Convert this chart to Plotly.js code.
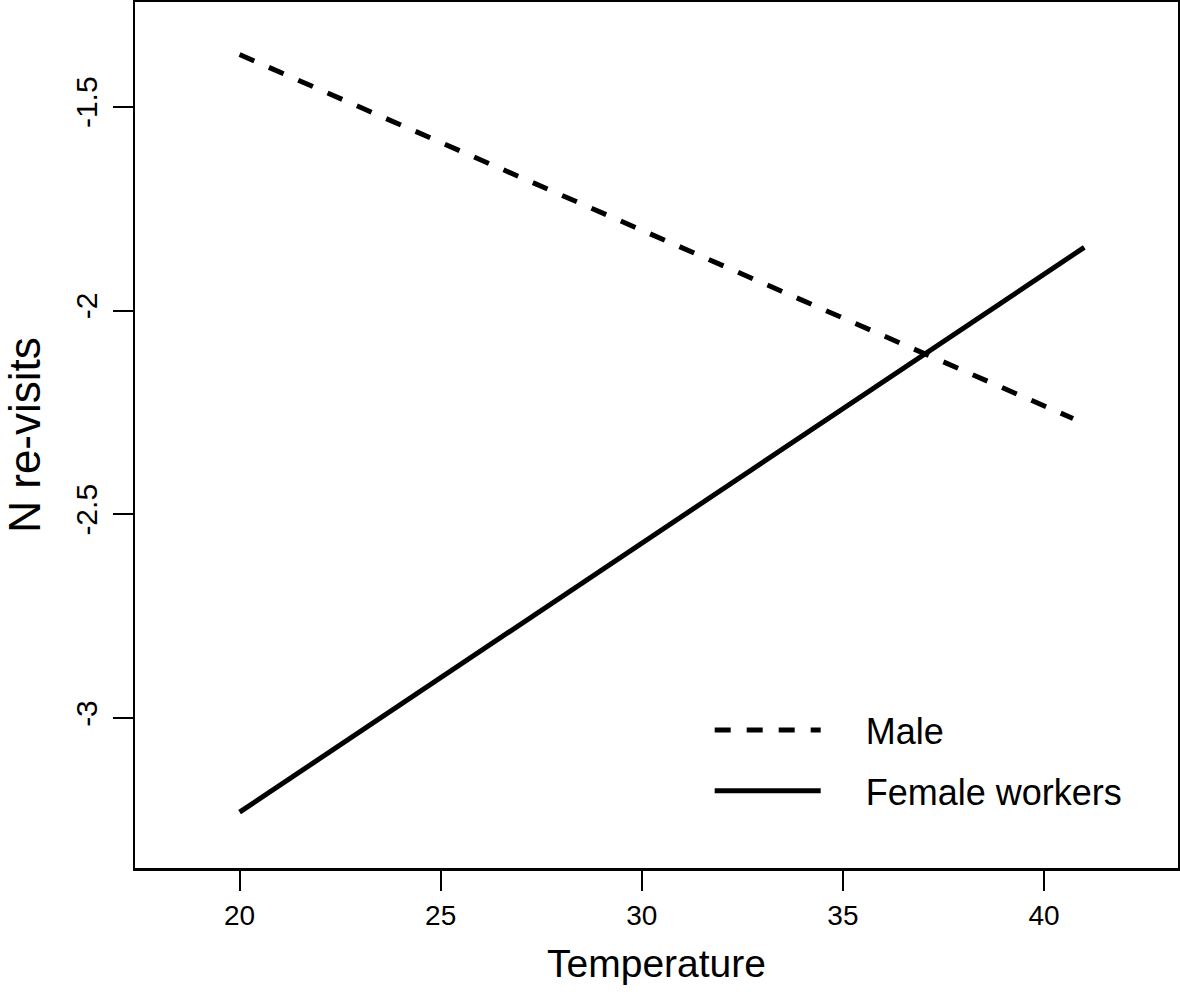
<!DOCTYPE html>
<html>
<head>
<meta charset="utf-8">
<script src="https://cdn.plot.ly/plotly-3.0.1.min.js"></script>
<style>
  body { margin: 0; background: #fff; }
  #plot { width: 1180px; height: 994px; }
</style>
</head>
<body>
<div id="plot"></div>
<script>
// fitted lines
const maleTemp = [20, 40.72];
const maleRevisits = [-1.372, -2.265];
const femaleTemp = [20, 41];
const femaleRevisits = [-3.231, -1.845];

const xTicks = [20, 25, 30, 35, 40];
const yTicks = [-1.5, -2, -2.5, -3];
const yTickLabels = ['-1.5', '-2', '-2.5', '-3'];

const pad = '\u00A0\u00A0\u00A0\u00A0';  // gap between legend line and label

const traces = [
    {
        x: maleTemp, y: maleRevisits,
        mode: 'lines', type: 'scatter', name: pad + 'Male', legendgroup: 'm',
        line: { color: '#000', width: 5, dash: '16px,16px' }
    },
    {
        x: femaleTemp, y: femaleRevisits,
        mode: 'lines', type: 'scatter', name: pad + 'Female workers', legendgroup: 'f',
        line: { color: '#000', width: 5 }
    }
];

const axisCommon = {
    showgrid: false, zeroline: false,
    showline: true, mirror: true, linecolor: '#000', linewidth: 2.5,
    ticks: 'outside', ticklen: 20, tickwidth: 2, tickcolor: '#000'
};

const layout = {
    width: 1180, height: 994,
    margin: { l: 135, r: 2, t: 2, b: 126 },
    paper_bgcolor: '#fff', plot_bgcolor: '#fff',
    font: { family: 'Liberation Sans, Arial, sans-serif', color: '#000' },
    xaxis: Object.assign({}, axisCommon, {
        range: [17.4, 43.33],
        tickvals: xTicks,
        tickfont: { size: 28 },
        ticklabelstandoff: 1,
        title: { text: 'Temperature', font: { size: 39 }, standoff: 20 }
    }),
    yaxis: Object.assign({}, axisCommon, {
        range: [-3.368, -1.243],
        tickvals: yTicks, ticktext: yTickLabels,
        tickangle: -90,
        tickfont: { size: 30 },
        ticklabelstandoff: 4,
        title: { text: 'N re-visits', font: { size: 44 }, standoff: 20 }
    }),
    showlegend: true,
    legend: {
        x: 0.551, y: 0.194, xanchor: 'left', yanchor: 'top',
        bgcolor: 'rgba(0,0,0,0)',
        font: { size: 36 },
        itemwidth: 106,
        traceorder: 'grouped',
        tracegroupgap: 11
    }
};

Plotly.newPlot('plot', traces, layout, { displayModeBar: false, staticPlot: true });
</script>
</body>
</html>
